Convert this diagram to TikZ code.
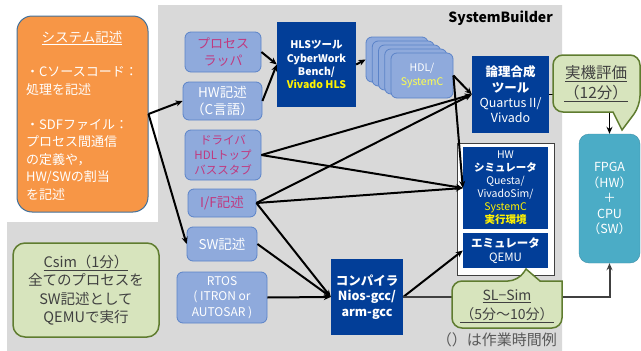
\documentclass[tikz,border=0pt]{standalone}
\usepackage{fontspec}
\setmainfont{Noto Sans CJK JP}
\usepackage{xcolor}
\usepackage{tikz}
\usetikzlibrary{arrows.meta}

\definecolor{bggray}{HTML}{D9D9D9}
\definecolor{orangef}{HTML}{F79646}
\definecolor{orangeline}{HTML}{41719C}
\definecolor{lbfill}{HTML}{8FAADC}
\definecolor{lbline}{HTML}{5B83C8}
\definecolor{magtext}{HTML}{C0397F}
\definecolor{dblue}{HTML}{023E98}
\definecolor{hdlyellow}{HTML}{FFFF4D}
\definecolor{greenf}{HTML}{D7E4BD}
\definecolor{greenline}{HTML}{5F7C2F}
\definecolor{darktext}{HTML}{404040}
\definecolor{notegray}{HTML}{595959}
\definecolor{tealf}{HTML}{4BACC6}
\definecolor{tealline}{HTML}{3E8FA8}

\newcommand\fsz[2]{\fontsize{#1}{#2}\selectfont}

\begin{document}
\begin{tikzpicture}[x=1pt,y=-1pt,
                    lbox/.style={draw=lbline,fill=lbfill,rounded corners=6,align=center,
                                 text=white,inner sep=0pt,line width=0.8pt},
                    dbox/.style={fill=dblue,align=center,text=white,inner sep=0pt},
                    callout/.style={draw=greenline,fill=greenf,line width=1.5pt},
                    ctext/.style={align=center,text=darktext,inner sep=0pt},
                    arr/.style={draw=black,line width=2pt,-{Stealth[length=7pt,width=6pt]}}]
\useasboundingbox (0,0) rectangle (641,351);
% gray area of SystemBuilder
\fill[bggray] (158,5) -- (562,5) -- (562,351) -- (7,351) -- (7,222) -- (158,222) -- cycle;
\node[anchor=east,font=\fsz{14}{16}\bfseries,inner sep=0pt] (sbtitle) at (553,18) {SystemBuilder};
\node[anchor=east,font=\fsz{15}{17},text=notegray,inner sep=0pt] (note) at (557,340) {（）は作業時間例};

% system description
\node[draw=orangeline,fill=orangef,rounded corners=15,minimum width=131,minimum height=196,
      line width=1pt] (sys) at (82.5,114) {};
\node[text=white,font=\fsz{13.5}{17},inner sep=0pt] (systitle) at (82,38) {\underline{システム記述}};
\node[anchor=west,align=left,text=white,font=\fsz{13}{17.5},inner sep=0pt] (sysbody) at (26,133.5)
     {・Cソースコード：\\処理を記述\\[17.5pt]・SDFファイル：\\プロセス間通信\\の定義や，\\HW/SWの割当\\を記述};

% descriptions
\node[lbox,minimum width=76,minimum height=40,text=magtext,font=\fsz{13}{17}] (wrap) at (223,52) {プロセス\\ラッパ};
\node[lbox,minimum width=79,minimum height=38,font=\fsz{13.5}{17}] (hwc) at (222.5,101) {HW記述\\（C言語）};
\node[lbox,minimum width=76,minimum height=50,text=magtext,font=\fsz{11.5}{15}] (drv) at (223,155) {ドライバ\\HDLトップ\\バススタブ};
\node[lbox,minimum width=68,minimum height=28,text=magtext,font=\fsz{13.5}{17}] (ifd) at (222,203) {I/F記述};
\node[lbox,minimum width=70,minimum height=34,font=\fsz{13.5}{17}] (swd) at (222,244) {SW記述};
\node[lbox,minimum width=90,minimum height=51,font=\fsz{12}{15.5}] (rtos) at (222,297.5) {RTOS\\( ITRON or\\AUTOSAR )};

% tools
\node[dbox,minimum width=79,minimum height=85,font=\fsz{10.5}{13.2}\bfseries] (hls) at (316.5,64.5)
     {HLSツール\\CyberWork\\Bench/\\\textcolor{yellow}{Vivado HLS}};
\foreach \i in {4,...,0}
  \node[lbox,minimum width=62,minimum height=45] (hdl\i) at ({422-6.25*\i},{75.5-4*\i}) {};
\node[align=center,text=white,font=\fsz{10.5}{14},inner sep=0pt] (hdltext) at (hdl0) {HDL/\\\textcolor{hdlyellow}{SystemC}};
\node[dbox,minimum width=77,minimum height=77,font=\fsz{12.5}{15.3}] (syn) at (510.5,94.5)
     {\textbf{論理合成}\\\textbf{ツール}\\Quartus II/\\Vivado};
\node[draw=darktext,fill=white,line width=1pt,minimum width=97,minimum height=132] (simframe) at (505.5,209) {};
\node[dbox,minimum width=85,minimum height=82,font=\fsz{10.5}{13}] (hwsim) at (505.5,188)
     {HW\\\textbf{シミュレータ}\\Questa/\\VivadoSim/\\\textcolor{yellow}{SystemC}\\\textcolor{yellow}{\textbf{実行環境}}};
\node[dbox,minimum width=85,minimum height=35,font=\fsz{11.5}{14}] (emu) at (505.5,250.5)
     {\textbf{エミュレータ}\\QEMU};
\node[dbox,minimum width=72,minimum height=76,font=\fsz{12.5}{15.5}\bfseries] (comp) at (367,297)
     {コンパイラ\\Nios-gcc/\\arm-gcc};
\node[draw=tealline,fill=tealf,rounded corners=10,minimum width=61,minimum height=129,
      align=center,text=white,font=\fsz{12.5}{15.5},inner sep=0pt] (fpga) at (609.5,198.5)
     {FPGA\\（HW）\\＋\\CPU\\（SW）};

% connectors
\draw[arr] (sys.east) -- (hwc.west);
\draw[arr] (sys.east) -- (swd.west);
\draw[arr] (wrap.east) -- (hls.west);
\draw[arr] (hwc.east) -- (hls.west);
\draw[arr] (hls.east) -- (hdl4.west);
\draw[arr] (hdl0.east) -- (syn.west);
\draw[arr] (hdl0.east) -- (hwsim.west);
\draw[arr] (drv.east) -- (syn.west);
\draw[arr] (drv.east) -- (hwsim.west);
\draw[arr] (ifd.east) -- (syn.west);
\draw[arr] (ifd.east) -- (hwsim.west);
\draw[arr] (ifd.east) -- (comp.west);
\draw[arr] (swd.east) -- (comp.west);
\draw[arr] (rtos.east) -- (comp.west);
\draw[arr] (comp.east) -- (emu.west);
\draw[arr,draw=darktext] (comp.east) -| (fpga.south);
\draw[arr,line width=1.5pt] (syn.east) -| (fpga.north);

% callouts
\draw[callout,rounded corners=10] (600,112) -- (553,112) -- (553,55) -- (640,55) -- (640,106)
     [sharp corners] -- (622,130) -- (613,112) -- cycle;
\node[ctext,font=\fsz{15.5}{20}] (evaltxt) at (596,84) {\underline{実機評価}\\\underline{（12分）}};
\draw[callout,rounded corners=10] (452,328) -- (452,281) -- (518,281)
     [sharp corners] -- (526,269) -- (540,281) -- (562,281) [rounded corners=10] -- (562,328) -- cycle;
\node[ctext,font=\fsz{14}{19}] (sltxt) at (507,306.5) {\underline{SL−Sim}\\\underline{（5分～10分）}};
\node[callout,rounded corners=12,minimum width=146,minimum height=94,ctext,font=\fsz{14.5}{18.5}] (csim) at (86,290)
     {\underline{Csim（1分）}\\全てのプロセスを\\SW記述として\\QEMUで実行};
\end{tikzpicture}
\end{document}
